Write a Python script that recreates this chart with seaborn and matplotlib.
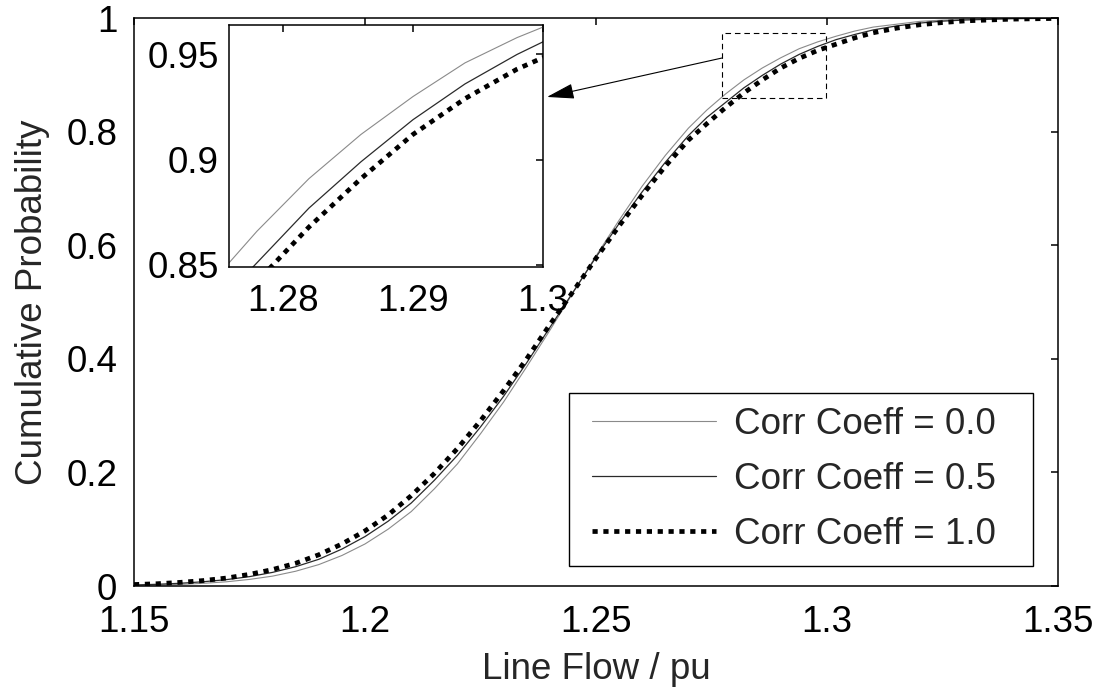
import matplotlib
matplotlib.use("Agg")
import matplotlib.pyplot as plt
from matplotlib.lines import Line2D
from matplotlib.legend_handler import HandlerLine2D
from matplotlib.patches import Rectangle
from matplotlib.ticker import FormatStrFormatter
import seaborn as sns

# ---- data: line flow (pu) and cumulative probability for three correlation levels
line_flow = [1.150, 1.155, 1.160, 1.165, 1.170, 1.175, 1.180, 1.185, 1.190, 1.195,
             1.200, 1.205, 1.210, 1.215, 1.220, 1.225, 1.230, 1.235, 1.240, 1.245,
             1.250, 1.255, 1.260, 1.265, 1.270, 1.274, 1.278, 1.282, 1.286, 1.290,
             1.294, 1.298, 1.302, 1.306, 1.310, 1.315, 1.320, 1.325, 1.330, 1.340,
             1.350]

cdf_corr_00 = [0.001, 0.0017, 0.0028, 0.0047, 0.0074, 0.0116, 0.0174, 0.026, 0.0377, 0.0537,
               0.074, 0.100, 0.131, 0.171, 0.215, 0.268, 0.324, 0.386, 0.450, 0.516,
               0.581, 0.644, 0.704, 0.758, 0.806, 0.838, 0.866, 0.891, 0.912, 0.930,
               0.946, 0.958, 0.968, 0.977, 0.984, 0.989, 0.994, 0.9963, 0.9977, 0.9992,
               0.9998]

cdf_corr_05 = [0.0018, 0.003, 0.0048, 0.0075, 0.0112, 0.0165, 0.024, 0.034, 0.047, 0.065,
               0.087, 0.114, 0.146, 0.186, 0.230, 0.280, 0.334, 0.393, 0.455, 0.517,
               0.579, 0.638, 0.694, 0.746, 0.793, 0.825, 0.851, 0.877, 0.899, 0.919,
               0.936, 0.950, 0.962, 0.971, 0.979, 0.986, 0.991, 0.9945, 0.9965, 0.9988,
               0.9996]

cdf_corr_10 = [0.0026, 0.004, 0.0064, 0.0096, 0.014, 0.0205, 0.029, 0.040, 0.055, 0.074,
               0.097, 0.125, 0.159, 0.198, 0.242, 0.291, 0.344, 0.400, 0.460, 0.518,
               0.577, 0.634, 0.688, 0.739, 0.785, 0.814, 0.842, 0.868, 0.891, 0.912,
               0.929, 0.943, 0.954, 0.965, 0.974, 0.982, 0.988, 0.992, 0.995, 0.998,
               0.9993]

series_labels = ["Corr Coeff = 0.0", "Corr Coeff = 0.5", "Corr Coeff = 1.0"]

main_xticks = [1.15, 1.2, 1.25, 1.3, 1.35]
main_yticks = [0, 0.2, 0.4, 0.6, 0.8, 1.0]
inset_xlim = (1.27585, 1.30)
inset_ylim = (0.849, 0.964)
inset_xticks = [1.28, 1.29, 1.30]
inset_yticks = [0.85, 0.90, 0.95]
zoom_box_x = (1.2773, 1.2998)
zoom_box_y = (0.859, 0.974)

# ---- style
sns.set_style("white")
plt.rcParams["font.family"] = ["Liberation Sans", "DejaVu Sans"]
FS = 26.5

styles = [
    dict(color="#8a8a8a", linewidth=0.8, linestyle="-"),
    dict(color="#2a2a2a", linewidth=0.9, linestyle="-"),
    dict(color="black", linewidth=3.4, linestyle=(0, (1.1, 1.2))),
]
series = [cdf_corr_00, cdf_corr_05, cdf_corr_10]

fig = plt.figure(figsize=(10.99, 6.90), dpi=100)
W, H = 1099, 690
ax = fig.add_axes([134 / W, (H - 586) / H, 924 / W, 568 / H])
axin = fig.add_axes([229 / W, (H - 267) / H, 314 / W, 242 / H])


def style_axes(a, xpad, ypad):
    for s in a.spines.values():
        s.set_visible(True)
        s.set_color("black")
        s.set_linewidth(1.1)
    a.tick_params(direction="in", length=5, width=1.1, top=True, right=True,
                  labelsize=FS, colors="black")
    a.tick_params(axis="x", pad=xpad)
    a.tick_params(axis="y", pad=ypad)
    a.xaxis.set_major_formatter(FormatStrFormatter("%g"))
    a.yaxis.set_major_formatter(FormatStrFormatter("%g"))
    a.grid(False)


for y, lab, st in zip(series, series_labels, styles):
    sns.lineplot(x=line_flow, y=y, ax=ax, label=lab, **st)
    sns.lineplot(x=line_flow, y=y, ax=axin, **st)

ax.set_xlim(1.15, 1.35)
ax.set_ylim(0, 1)
ax.set_xticks(main_xticks)
ax.set_yticks(main_yticks)
style_axes(ax, 14, 12)
ax.set_xlabel("Line Flow / pu", fontsize=FS, labelpad=8)
ax.set_ylabel("Cumulative Probability", fontsize=FS, labelpad=12)

axin.set_xlim(*inset_xlim)
axin.set_ylim(*inset_ylim)
axin.set_xticks(inset_xticks)
axin.set_yticks(inset_yticks)
style_axes(axin, 12, 7.5)
axin.set_xlabel("")
axin.set_ylabel("")
if axin.get_legend() is not None:
    axin.get_legend().remove()

# zoom region marker and pointer to the inset
ax.add_patch(Rectangle((zoom_box_x[0], zoom_box_y[0]),
                       zoom_box_x[1] - zoom_box_x[0], zoom_box_y[1] - zoom_box_y[0],
                       fill=False, edgecolor="black", linewidth=0.8,
                       linestyle=(0, (5, 3.5)), zorder=5))
ax.annotate("", xy=(1.2394, 0.861), xytext=(zoom_box_x[0], 0.9296),
            arrowprops=dict(arrowstyle="-|>,head_length=0.85,head_width=0.24",
                            mutation_scale=20, color="black", lw=0.8,
                            shrinkA=0, shrinkB=0))

handles, labels = ax.get_legend_handles_labels()
leg = ax.legend(handles, labels, loc="lower left",
                bbox_to_anchor=(0.4708, 0.0352, 0.502, 0.30), mode="expand",
                borderaxespad=0, fontsize=FS, frameon=True, fancybox=False,
                edgecolor="black", framealpha=1, borderpad=0.38,
                labelspacing=0.55, handlelength=3.6, handletextpad=0.5,
                handler_map={Line2D: HandlerLine2D(xpad=0.25)})
leg.get_frame().set_linewidth(1.0)

fig.savefig("out.png", dpi=100)
